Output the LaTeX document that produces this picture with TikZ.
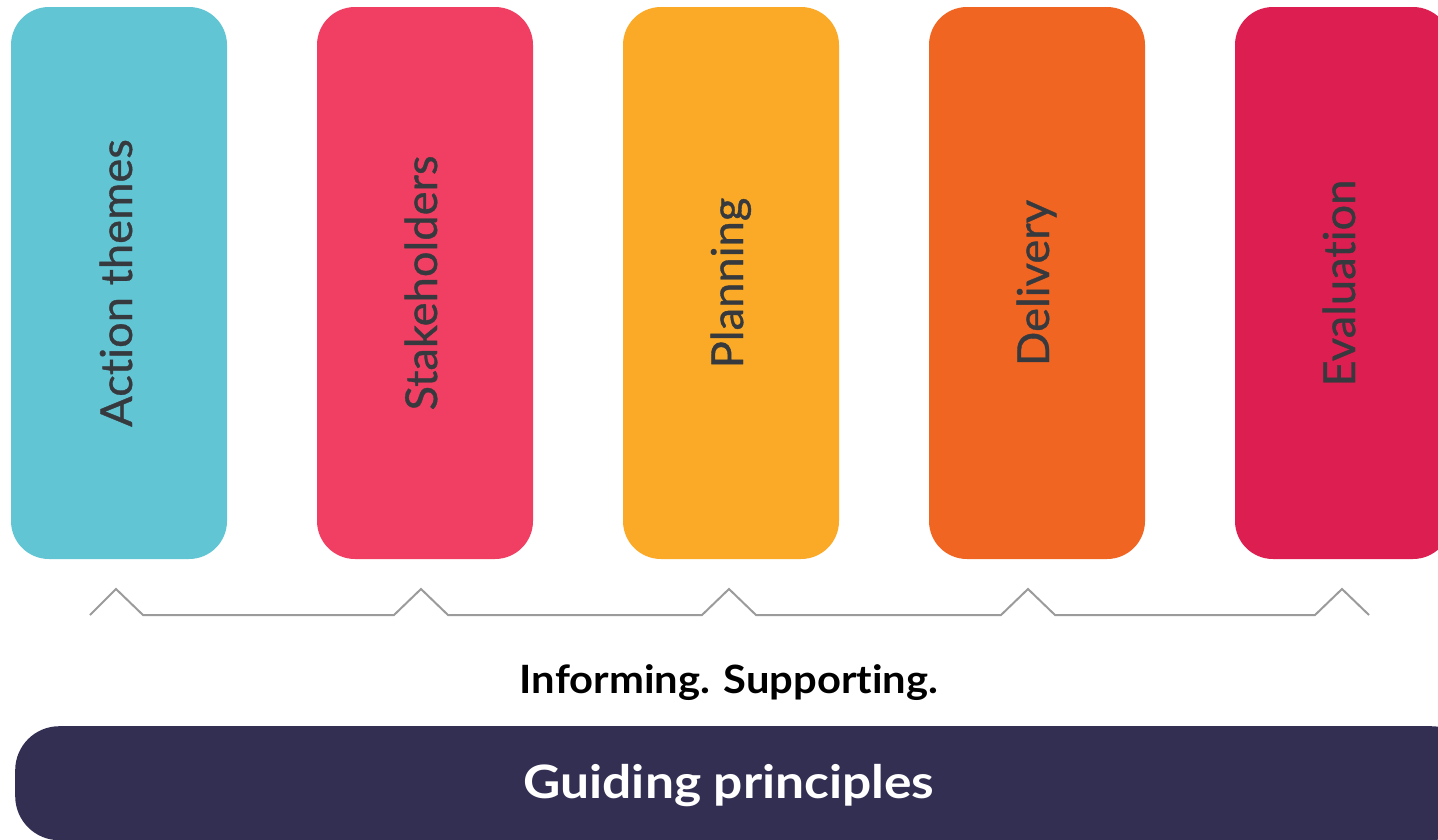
\documentclass[tikz,border=0pt]{standalone}
\usepackage{fontspec}
\setmainfont{Lato}[Ligatures=NoCommon]
\newfontfamily\stagefont{Lato}[Ligatures=NoCommon, FakeStretch=1.03, FakeBold=0.8]
\newfontfamily\capfont{Lato}[Ligatures=NoCommon, FakeStretch=1.07]
\newfontfamily\barfont{Lato}[Ligatures=NoCommon, FakeStretch=1.12]
\definecolor{cteal}{HTML}{62C5D4}
\definecolor{cpink}{HTML}{F03F62}
\definecolor{camber}{HTML}{FAAA26}
\definecolor{corange}{HTML}{F06522}
\definecolor{ccrimson}{HTML}{DC1E50}
\definecolor{cnavy}{HTML}{322F52}
\definecolor{clabel}{HTML}{36393D}
\definecolor{cline}{HTML}{9B9B9B}
\tikzset{
  stagebox/.style={rectangle, rounded corners=38pt, minimum width=216pt,
    minimum height=552pt, inner sep=0pt, draw=none},
  stagelabel/.style={rotate=90, anchor=base, inner sep=0pt, text=clabel,
    font=\stagefont\fontsize{44}{50}\selectfont},
  linkline/.style={draw=cline, line width=2pt},
}
\begin{document}
\begin{tikzpicture}[x=1pt,y=-1pt]
\useasboundingbox (0,0) rectangle (1438,839);
\clip (0,0) rectangle (1438,839);

% stage columns
\node[stagebox, fill=cteal]    (b1) at (119,283)  {};
\node[stagebox, fill=cpink]    (b2) at (425,283)  {};
\node[stagebox, fill=camber]   (b3) at (731,283)  {};
\node[stagebox, fill=corange]  (b4) at (1037,283) {};
\node[stagebox, fill=ccrimson] (b5) at (1343,283) {};

\node[stagelabel] (t1) at ([xshift=13pt]b1.center) {Action themes};
\node[stagelabel] (t2) at ([xshift=12pt]b2.center) {Stakeholders};
\node[stagelabel] (t3) at ([xshift=12pt]b3.center) {Planning};
\node[stagelabel] (t4) at ([xshift=12pt]b4.center) {Delivery};
\node[stagelabel] (t5) at ([xshift=12pt]b5.center) {Evaluation};

% zigzag rail with a peak under each column
\coordinate (p1) at (116,589);
\coordinate (p2) at (421,589);
\coordinate (p3) at (729,589);
\coordinate (p4) at (1028,589);
\coordinate (p5) at (1342,589);
\path[linkline]
  ([shift={(-26,26)}]p1) -- (p1) -- ([shift={(27,26)}]p1)
  -- ([shift={(-27,26)}]p2) -- (p2) -- ([shift={(27,26)}]p2)
  -- ([shift={(-27,26)}]p3) -- (p3) -- ([shift={(27,26)}]p3)
  -- ([shift={(-27,26)}]p4) -- (p4) -- ([shift={(27,26)}]p4)
  -- ([shift={(-27,26)}]p5) -- (p5) -- ([shift={(27,26)}]p5);

\node[anchor=base, inner sep=0pt, font=\capfont\bfseries\fontsize{39}{44}\selectfont]
  (cap) at (729,693) {Informing. Supporting.};

% base bar
\node[rectangle, rounded corners=44pt, fill=cnavy, minimum width=1460pt,
  minimum height=114pt, inner sep=0pt, anchor=north west] (bar) at (15,726) {};
\node[anchor=base, inner sep=0pt, text=white,
  font=\barfont\bfseries\fontsize{46}{52}\selectfont] (gp) at (729,798) {Guiding principles};
\end{tikzpicture}
\end{document}
